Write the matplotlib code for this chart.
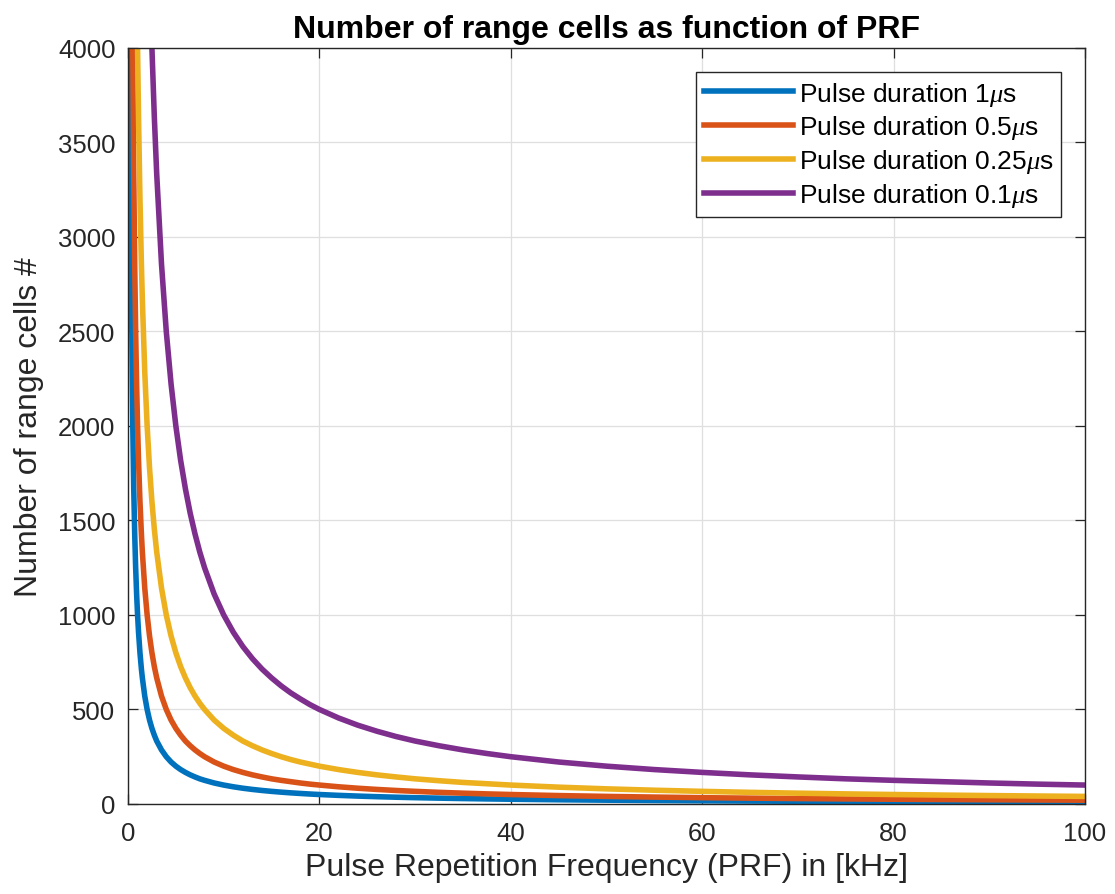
import matplotlib
matplotlib.use("Agg")
import matplotlib.pyplot as plt

plt.rcParams['font.family'] = ['Liberation Sans', 'DejaVu Sans']
plt.rcParams['mathtext.fontset'] = 'custom'
plt.rcParams['mathtext.it'] = 'Liberation Serif:italic'

prf_khz = [0.25, 0.3, 0.35, 0.4, 0.45, 0.5, 0.6, 0.7, 0.8, 0.9, 1, 1.1, 1.25, 1.4, 1.5, 1.75, 2, 2.25, 2.5,
           2.75, 3, 3.5, 4, 4.5, 5, 5.5, 6, 6.5, 7, 7.5, 8, 9, 10, 11, 12, 13, 14, 15, 16, 17, 18, 19, 20,
           22, 24, 26, 28, 30, 32.5, 35, 37.5, 40, 45, 50, 55, 60, 65, 70, 75, 80, 85, 90, 95, 100]
cells_1us = [4000, 3333, 2857, 2500, 2222, 2000, 1667, 1429, 1250, 1111, 1000, 909, 800, 714, 667, 571, 500,
             444, 400, 364, 333, 286, 250, 222, 200, 182, 167, 154, 143, 133, 125, 111, 100, 90.9, 83.3, 76.9,
             71.4, 66.7, 62.5, 58.8, 55.6, 52.6, 50, 45.5, 41.7, 38.5, 35.7, 33.3, 30.8, 28.6, 26.7, 25, 22.2,
             20, 18.2, 16.7, 15.4, 14.3, 13.3, 12.5, 11.8, 11.1, 10.5, 10]
cells_05us = [8000, 6667, 5714, 5000, 4444, 4000, 3333, 2857, 2500, 2222, 2000, 1818, 1600, 1429, 1333, 1143,
              1000, 889, 800, 727, 667, 571, 500, 444, 400, 364, 333, 308, 286, 267, 250, 222, 200, 182, 167,
              154, 143, 133, 125, 118, 111, 105, 100, 90.9, 83.3, 76.9, 71.4, 66.7, 61.5, 57.1, 53.3, 50, 44.4,
              40, 36.4, 33.3, 30.8, 28.6, 26.7, 25, 23.5, 22.2, 21.1, 20]
cells_025us = [16000, 13333, 11429, 10000, 8889, 8000, 6667, 5714, 5000, 4444, 4000, 3636, 3200, 2857, 2667,
               2286, 2000, 1778, 1600, 1455, 1333, 1143, 1000, 889, 800, 727, 667, 615, 571, 533, 500, 444, 400,
               364, 333, 308, 286, 267, 250, 235, 222, 211, 200, 182, 167, 154, 143, 133, 123, 114, 107, 100,
               88.9, 80, 72.7, 66.7, 61.5, 57.1, 53.3, 50, 47.1, 44.4, 42.1, 40]
cells_01us = [40000, 33333, 28571, 25000, 22222, 20000, 16667, 14286, 12500, 11111, 10000, 9091, 8000, 7143,
              6667, 5714, 5000, 4444, 4000, 3636, 3333, 2857, 2500, 2222, 2000, 1818, 1667, 1538, 1429, 1333,
              1250, 1111, 1000, 909, 833, 769, 714, 667, 625, 588, 556, 526, 500, 455, 417, 385, 357, 333, 308,
              286, 267, 250, 222, 200, 182, 167, 154, 143, 133, 125, 118, 111, 105, 100]
labels = [r'Pulse duration 1$\mu$s', r'Pulse duration 0.5$\mu$s',
          r'Pulse duration 0.25$\mu$s', r'Pulse duration 0.1$\mu$s']
colors = ['#0072BD', '#D95319', '#EDB120', '#7E2F8E']
xticks = [0, 20, 40, 60, 80, 100]
yticks = [0, 500, 1000, 1500, 2000, 2500, 3000, 3500, 4000]

fig = plt.figure(figsize=(11.15, 8.95), dpi=100)
ax = fig.add_axes([0.1148, 0.1006, 0.8583, 0.8447])

for ys, lab, c in zip([cells_1us, cells_05us, cells_025us, cells_01us], labels, colors):
    ax.plot(prf_khz, ys, color=c, lw=4, label=lab, solid_joinstyle='round')

ax.set_xlim(0, 100)
ax.set_ylim(0, 4000)
ax.set_xticks(xticks)
ax.set_yticks(yticks)
ax.grid(True, color='#dfdfdf', lw=0.9)
ax.set_axisbelow(True)
ax.tick_params(direction='in', length=7, width=0.9, labelsize=18.5, colors='#262626',
               top=True, right=True)
ax.tick_params(axis='x', pad=12)
ax.tick_params(axis='y', pad=9)
for s in ax.spines.values():
    s.set_color('#262626')
    s.set_linewidth(1.0)

ax.set_xlabel('Pulse Repetition Frequency (PRF) in [kHz]', fontsize=23, color='#262626', labelpad=5)
ax.set_ylabel('Number of range cells #', fontsize=23, color='#262626', labelpad=10)
ax.set_title('Number of range cells as function of PRF', fontsize=23, fontweight='bold', pad=8)

leg = ax.legend(loc='upper right', fontsize=19, frameon=True, fancybox=False,
                edgecolor='#262626', handlelength=3.4, handletextpad=0.2,
                borderaxespad=0.9, labelspacing=0.22, borderpad=0.3, framealpha=1)
leg.get_frame().set_linewidth(1.0)
for h in leg.get_lines():
    h.set_linewidth(4)

fig.savefig('out.png', dpi=100)
